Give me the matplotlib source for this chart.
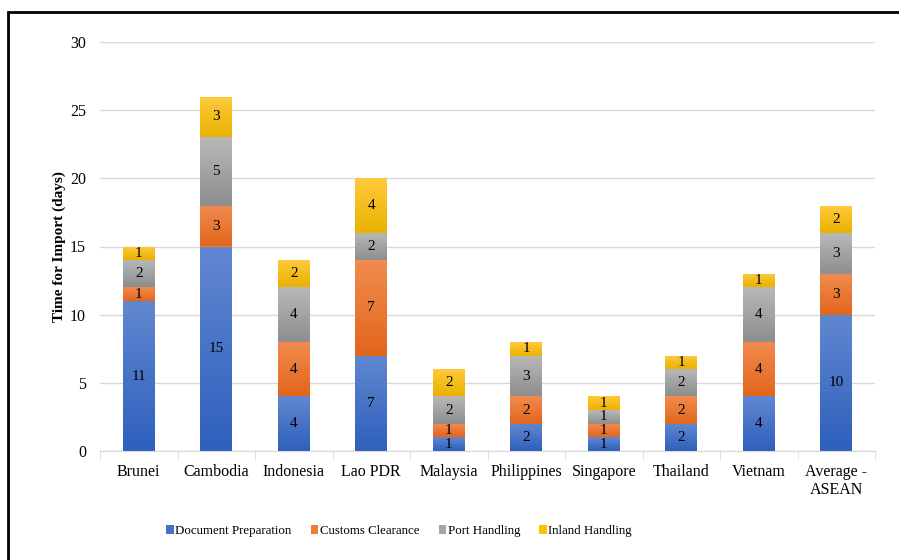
import numpy as np
import matplotlib
matplotlib.use("Agg")
import matplotlib.pyplot as plt
from matplotlib.patches import Rectangle
from matplotlib.colors import LinearSegmentedColormap

plt.rcParams['font.family'] = ['Liberation Serif', 'DejaVu Serif']

countries = ["Brunei", "Cambodia", "Indonesia", "Lao PDR", "Malaysia",
             "Philippines", "Singapore", "Thailand", "Vietnam", "Average -\nASEAN"]
document_preparation = [11, 15, 4, 7, 1, 2, 1, 2, 4, 10]
customs_clearance = [1, 3, 4, 7, 1, 2, 1, 2, 4, 3]
port_handling = [2, 5, 4, 2, 2, 3, 1, 2, 4, 3]
inland_handling = [1, 3, 2, 4, 2, 1, 1, 1, 1, 2]

# (label, values, legend colour, gradient bottom, gradient top)
series = [
    ("Document Preparation", document_preparation, "#4472C4", "#2e60bd", "#6187d0"),
    ("Customs Clearance", customs_clearance, "#ED7D31", "#e2661c", "#f18b50"),
    ("Port Handling", port_handling, "#A5A5A5", "#8e8e8e", "#b8b8b8"),
    ("Inland Handling", inland_handling, "#FFC000", "#eab200", "#ffc93d"),
]

fig = plt.figure(figsize=(8.99, 5.6), dpi=100)
ax = fig.add_axes([100 / 899, 1 - 451 / 560, 775 / 899, 409 / 560])

x = np.arange(len(countries))
width = 0.41
bottom = np.zeros(len(countries))
grad = np.linspace(0, 1, 64).reshape(-1, 1)

for name, vals, color, c_lo, c_hi in series:
    vals = np.array(vals, dtype=float)
    bars = ax.bar(x, vals, width, bottom=bottom, color=color, label=name,
                  edgecolor="none", zorder=3)
    cmap = LinearSegmentedColormap.from_list(name, [c_lo, c_hi])
    for bar in bars:
        bx, by = bar.get_x(), bar.get_y()
        bw, bh = bar.get_width(), bar.get_height()
        im = ax.imshow(grad, cmap=cmap, aspect="auto", origin="lower",
                       extent=(bx, bx + bw, by, by + bh), zorder=3.5,
                       interpolation="bilinear")
        im.set_clip_path(bar)
    for xi, b, v in zip(x, bottom, vals):
        ax.text(xi, b + v / 2, f"{int(v)}", ha="center", va="center",
                fontsize=11, color="black", zorder=5)
    bottom += vals

ax.set_xlim(-0.5, len(countries) - 0.5)
ax.set_ylim(0, 30)
ax.set_yticks(np.arange(0, 31, 5))
ax.yaxis.grid(True, color="#d9d9d9", linewidth=1, zorder=0)
ax.set_axisbelow(True)
for s in ["top", "right", "left"]:
    ax.spines[s].set_visible(False)
ax.spines["bottom"].set_color("#d9d9d9")
ax.spines["bottom"].set_zorder(4)
ax.tick_params(axis="y", length=0, labelsize=11.5, pad=10)
ax.set_xticks(x)
ax.set_xticklabels(countries, fontsize=11.5)
ax.tick_params(axis="x", length=0, pad=9)
ax.set_xticks(np.arange(-0.5, len(countries)), minor=True)
ax.tick_params(axis="x", which="minor", length=6, color="#d9d9d9", direction="out")
ax.set_ylabel("Time for Import (days)", fontsize=11, fontweight="bold", labelpad=3)

leg = fig.legend(loc="center", bbox_to_anchor=(399 / 899, 1 - 531 / 560), ncol=4,
                 frameon=False, fontsize=9.3, handlelength=0.6, handleheight=0.6,
                 handletextpad=0.1, columnspacing=1.5)

fig.patches.append(Rectangle((8 / 899, -0.05), 1.05, 1 - 12 / 560 + 0.05,
                             transform=fig.transFigure, fill=False,
                             edgecolor="black", linewidth=2))

fig.savefig("out.png", dpi=100)
